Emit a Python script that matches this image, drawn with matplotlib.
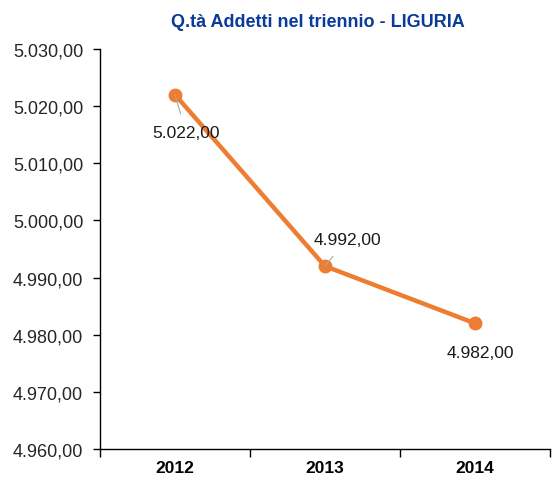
import matplotlib.pyplot as plt
from matplotlib.ticker import FuncFormatter, FixedLocator

plt.rcParams['font.family'] = ['Liberation Sans', 'DejaVu Sans']

years = ['2012', '2013', '2014']
addetti = [5022, 4992, 4982]
# label offsets in points (dx, dy) from each point
label_offsets = [(8, -27), (16, 19), (4, -21)]
show_leader = [True, True, False]


def it_format(v, pos=None):
    s = f'{v:,.2f}'
    return s.replace(',', 'X').replace('.', ',').replace('X', '.')


fig = plt.figure(figsize=(5.52, 4.81), dpi=100)
ax = fig.add_axes([0.181, 0.0644, 0.815, 0.832])

x = list(range(len(years)))
ax.plot(x, addetti, color='#ED7D31', linewidth=3.2, marker='o', markersize=9,
        solid_capstyle='round', zorder=3)

for xi, yi, (dx, dy), lead in zip(x, addetti, label_offsets, show_leader):
    ax.annotate(it_format(yi), xy=(xi, yi), xytext=(dx, dy),
                textcoords='offset points', ha='center', va='center',
                fontsize=12.5, color='#1a1a1a',
                arrowprops=dict(arrowstyle='-', color='#a6a6a6', lw=0.8,
                                shrinkA=6, shrinkB=0) if lead else None,
                zorder=4)

ax.set_xlim(-0.5, 2.5)
ax.set_ylim(4960, 5030)
ax.set_yticks([4960, 4970, 4980, 4990, 5000, 5010, 5020, 5030])
ax.yaxis.set_major_formatter(FuncFormatter(it_format))
ax.tick_params(axis='y', labelsize=13, length=5, width=1, colors='black',
               labelcolor='#262626', pad=7)

ax.xaxis.set_major_locator(FixedLocator([-0.5, 0.5, 1.5, 2.5]))
ax.set_xticklabels([])
ax.xaxis.set_minor_locator(FixedLocator(x))
ax.set_xticklabels(years, minor=True, fontweight='bold', fontsize=12.5)
ax.tick_params(axis='x', which='major', length=6, width=1, direction='out')
ax.tick_params(axis='x', which='minor', length=0, pad=8)

for side in ['top', 'right']:
    ax.spines[side].set_visible(False)
for side in ['left', 'bottom']:
    ax.spines[side].set_color('black')
    ax.spines[side].set_linewidth(1)

fig.text(0.575, 0.953, 'Q.tà Addetti nel triennio - LIGURIA', ha='center',
         va='center', fontsize=13, fontweight='bold', color='#0A3A9A')

fig.savefig('out.png', dpi=100)
